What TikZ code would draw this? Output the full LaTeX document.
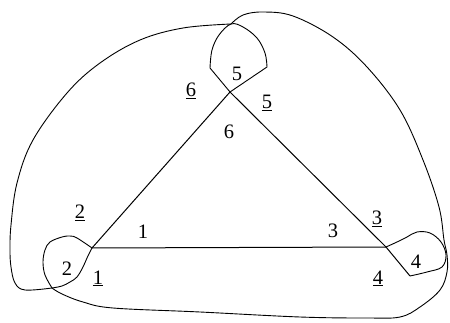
\documentclass[tikz,border=0pt]{standalone}
\usepackage{fontspec}
\setmainfont{Liberation Serif}

\begin{document}
\begin{tikzpicture}[
        x=1pt, y=-1pt,
        edge/.style={line width=1pt},
        crv/.style={line width=0.9pt},
        num/.style={anchor=base, inner sep=0pt, font=\fontsize{20.5}{22}\selectfont}
    ]
    \useasboundingbox (0,0) rectangle (450,323);
    % corners of the triangle and the points where the curves meet
    \coordinate (A) at (92,248);
    \coordinate (B) at (386,247);
    \coordinate (C) at (230,92);
    \coordinate (T) at (231,24);
    \coordinate (L) at (52,288);
    \coordinate (R) at (410,276);
    % triangle
    \draw[edge] (A) -- (B);
    \draw[edge] (A) -- (C);
    \draw[edge] (C) -- (B);
    \draw[edge] (B) -- (R);
    % loop at C
    \draw[crv] (C) -- (210,68) -- plot[smooth, tension=0.6] coordinates {(210,68) (212,50) (219,35) (T) (243,27) (257,38) (265,53) (267,67)} -- (C);
    % loop at A
    \draw[crv] plot[smooth, tension=0.6] coordinates {(A) (77,238) (70,236) (62,237) (50,242) (45,250) (43,262) (45,275) (L)};
    \draw[crv] plot[smooth, tension=0.6] coordinates {(L) (62,286) (70,282) (77,277) (83,267) (87,258) (A)};
    % loop at B
    \draw[crv] plot[smooth, tension=0.6] coordinates {(B) (397,242) (407,237) (417,232) (430,233) (441,242) (446,255) (442,267) (427,272) (R)};
    % outer curve
    \draw[crv] plot[smooth, tension=0.6] coordinates {(L) (25,290) (15,283) (11,267) (10,250) (11,225) (17,183) (33,140) (67,93) (100,63) (140,40) (183,28) (T)};
    \draw[crv] plot[smooth, tension=0.6] coordinates {(T) (243,15) (263,12) (293,16) (333,37) (367,67) (400,110) (423,160) (439,207) (444,240) (447,255) (447,272) (440,290) (420,307) (400,317) (367,318) (300,317) (200,312) (113,308) (83,302) (62,294) (L)};
    % labels
    \node[num] (c5) at (237,81) {5};
    \node[num] (c6u) at (191,97) {\underline{6}};
    \node[num] (c5u) at (267,109) {\underline{5}};
    \node[num] (c6) at (229,139) {6};
    \node[num] (a2u) at (80,219) {\underline{2}};
    \node[num] (a1) at (143,239) {1};
    \node[num] (b3) at (333,238) {3};
    \node[num] (b3u) at (377,225) {\underline{3}};
    \node[num] (b4u) at (378,284) {\underline{4}};
    \node[num] (a1u) at (98,284) {\underline{1}};
    \node[num] (a2) at (67,276) {2};
    \node[num] (b4) at (416,269) {4};
\end{tikzpicture}
\end{document}
